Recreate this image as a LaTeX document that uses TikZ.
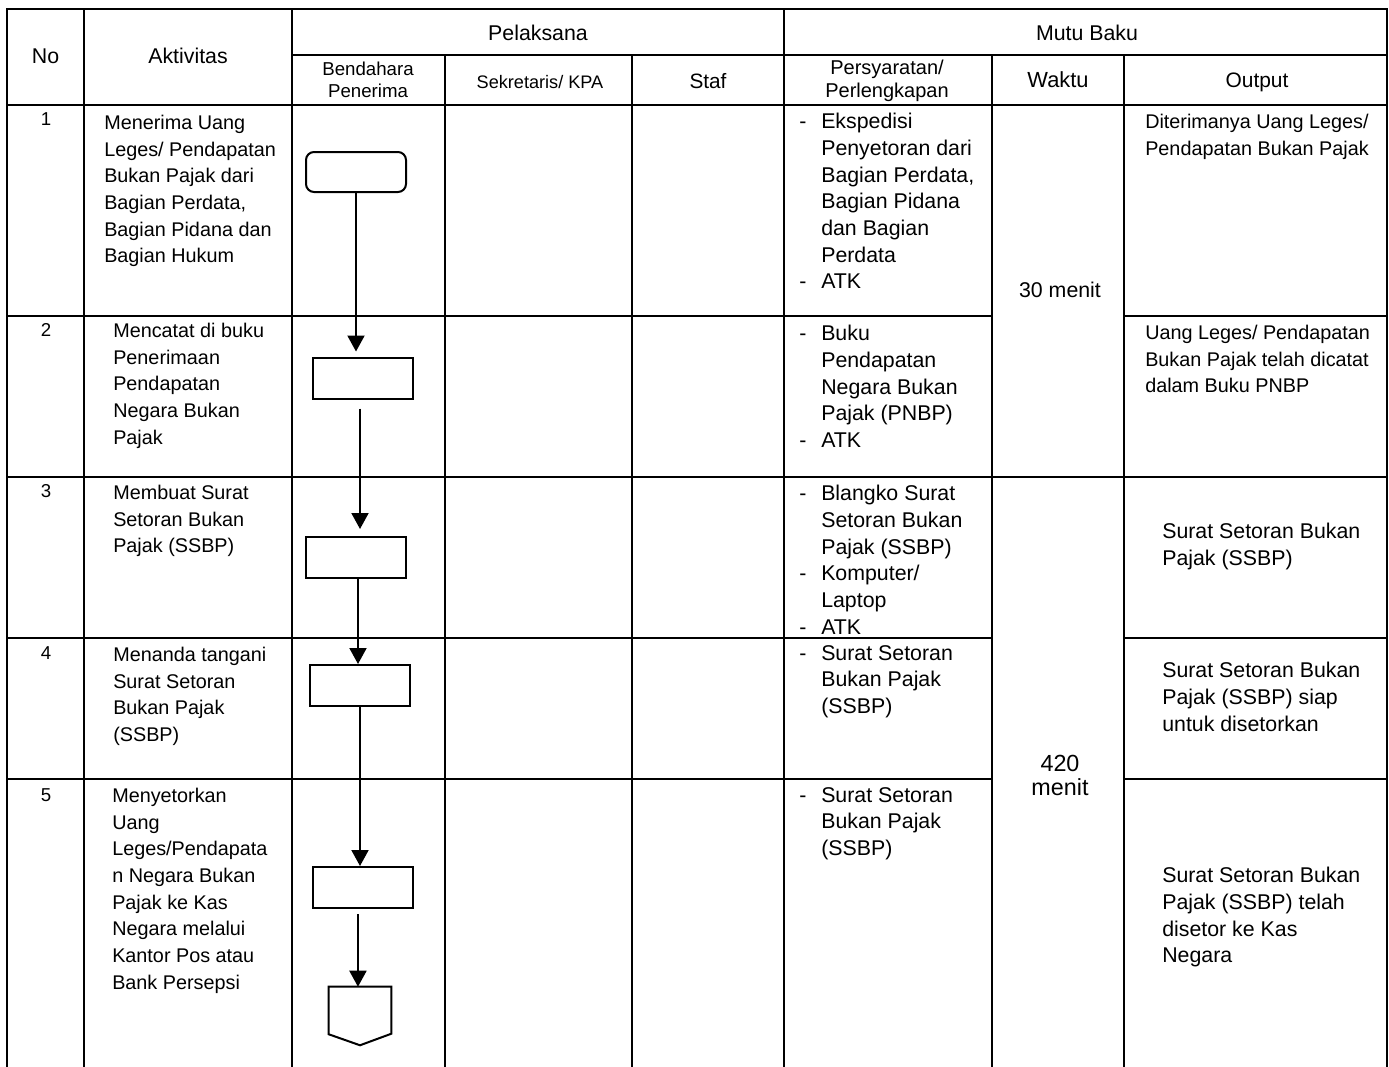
\documentclass[tikz,border=0pt]{standalone}
\usepackage{fontspec}
\setmainfont{Liberation Sans}
\usetikzlibrary{arrows.meta}
\newcommand{\butir}{\makebox[16.5pt][l]{-}}
\newcommand{\lanjut}{\hspace*{16.5pt}}

\begin{document}
\begin{tikzpicture}[x=0.75pt,y=-0.75pt,
  garis/.style={line width=1.5pt,line cap=rect},
  kotak/.style={draw,line width=1.5pt,minimum width=75pt,minimum height=30.75pt,inner sep=0pt},
  panah/.style={line width=1.5pt,-{Triangle[width=12.75pt,length=12pt]}},
  judul/.style={inner sep=0pt,align=center,font=\fontsize{16}{18}\selectfont},
  nomor/.style={anchor=north,inner sep=0pt,font=\fontsize{14}{16}\selectfont},
  isi/.style={anchor=north west,inner sep=0pt,align=left,font=\fontsize{14.85}{20}\selectfont},
  isib/.style={isi,font=\fontsize{16}{20}\selectfont}]
  \useasboundingbox (0,0) rectangle (1389,1067);
  % garis tabel
  \draw[garis] (7,9) -- (1387,9);
  \draw[garis] (292,55) -- (1387,55);
  \draw[garis] (7,105) -- (1387,105);
  \draw[garis] (7,477) -- (1387,477);
  \foreach \y in {316,638,779}
    \draw[garis] (7,\y) -- (992,\y) (1124,\y) -- (1387,\y);
  \foreach \x in {7,84,292,784,1387}
    \draw[garis] (\x,9) -- (\x,1067);
  \foreach \x in {445,632,992,1124}
    \draw[garis] (\x,55) -- (\x,1067);

  % kepala tabel
  \node[judul] (no) at (45.5,56) {No};
  \node[judul] (aktivitas) at (188,56) {Aktivitas};
  \node[judul] (pelaksana) at (538,33) {Pelaksana};
  \node[judul] (mutu) at (1087,33) {Mutu Baku};
  \node[judul,font=\fontsize{14}{16.5}\selectfont] (bendahara) at (368,80) {Bendahara\\Penerima};
  \node[judul,font=\fontsize{13.6}{16}\selectfont] (sekretaris) at (540,82) {Sekretaris/ KPA};
  \node[judul,font=\fontsize{15.6}{18}\selectfont] (staf) at (708,81) {Staf};
  \node[judul,font=\fontsize{15}{17.25}\selectfont] (syarat) at (887,81) {Persyaratan/\\Perlengkapan};
  \node[judul,font=\fontsize{16.4}{18}\selectfont] (waktu) at (1058,80) {Waktu};
  \node[judul,font=\fontsize{15.7}{18}\selectfont] (output) at (1257,82) {Output};

  % nomor dan aktivitas
  \foreach \n/\y in {1/112,2/323,3/484,4/646,5/788}
    \node[nomor] (no\n) at (46,\y) {\n};
  \node[isi] (akt1) at (104,115) {Menerima Uang\\Leges/ Pendapatan\\Bukan Pajak dari\\Bagian Perdata,\\Bagian Pidana dan\\Bagian Hukum};
  \node[isi] (akt2) at (113,323) {Mencatat di buku\\Penerimaan\\Pendapatan\\Negara Bukan\\Pajak};
  \node[isi] (akt3) at (113,485) {Membuat Surat\\Setoran Bukan\\Pajak (SSBP)};
  \node[isi] (akt4) at (113,647) {Menanda tangani\\Surat Setoran\\Bukan Pajak\\(SSBP)};
  \node[isi] (akt5) at (112,788) {Menyetorkan\\Uang\\Leges/Pendapata\\n Negara Bukan\\Pajak ke Kas\\Negara melalui\\Kantor Pos atau\\Bank Persepsi};

  % persyaratan
  \node[isib] (syarat1) at (799,113) {\butir Ekspedisi\\\lanjut Penyetoran dari\\\lanjut Bagian Perdata,\\\lanjut Bagian Pidana\\\lanjut dan Bagian\\\lanjut Perdata\\\butir ATK};
  \node[isib] (syarat2) at (799,325) {\butir Buku\\\lanjut Pendapatan\\\lanjut Negara Bukan\\\lanjut Pajak (PNBP)\\\butir ATK};
  \node[isib] (syarat3) at (799,485) {\butir Blangko Surat\\\lanjut Setoran Bukan\\\lanjut Pajak (SSBP)\\\butir Komputer/\\\lanjut Laptop\\\butir ATK};
  \node[isib] (syarat4) at (799,645) {\butir Surat Setoran\\\lanjut Bukan Pajak\\\lanjut (SSBP)};
  \node[isib] (syarat5) at (799,787) {\butir Surat Setoran\\\lanjut Bukan Pajak\\\lanjut (SSBP)};

  % waktu
  \node[judul] (waktu1) at (1060,290) {30 menit};
  \node[judul,font=\fontsize{17.5}{18}\selectfont] (waktu2) at (1060,775) {420\\menit};

  % output
  \node[isi] (out1) at (1145,114) {Diterimanya Uang Leges/\\Pendapatan Bukan Pajak};
  \node[isi] (out2) at (1145,325) {Uang Leges/ Pendapatan\\Bukan Pajak telah dicatat\\dalam Buku PNBP};
  \node[isib] (out3) at (1162,523) {Surat Setoran Bukan\\Pajak (SSBP)};
  \node[isib] (out4) at (1162,662) {Surat Setoran Bukan\\Pajak (SSBP) siap\\untuk disetorkan};
  \node[isib] (out5) at (1162,867) {Surat Setoran Bukan\\Pajak (SSBP) telah\\disetor ke Kas\\Negara};

  % alur bendahara penerima
  \node[kotak,rounded corners=6pt,minimum height=30pt] (mulai) at (356,172) {};
  \node[kotak] (catat) at (363,378) {};
  \node[kotak] (buat) at (356,557.5) {};
  \node[kotak] (ttd) at (360,685.5) {};
  \node[kotak] (setor) at (362.5,887.5) {};
  \node[minimum width=46.5pt,minimum height=43.5pt,inner sep=0pt] (selesai) at (360,1016) {};
  \draw[line width=1.5pt] (selesai.north west) -- (selesai.north east) -- ++(0,47)
    -- (selesai.south) -- ([yshift=8.25pt]selesai.south west) -- cycle;

  \draw[panah,shorten >=3.75pt] (mulai.south) -- (mulai.south |- catat.north);
  \draw[panah,shorten <=6.75pt,shorten >=5.25pt] ([xshift=-2.25pt]catat.south) -- ([xshift=-2.25pt]catat.south |- buat.north);
  \draw[panah] ([xshift=1.5pt]buat.south) -- ([xshift=1.5pt]buat.south |- ttd.north);
  \draw[panah] (ttd.south) -- (ttd.south |- setor.north);
  \draw[panah,shorten <=3.75pt] ([xshift=-3.4pt]setor.south) -- ([xshift=-3.4pt]setor.south |- selesai.north);
\end{tikzpicture}
\end{document}
